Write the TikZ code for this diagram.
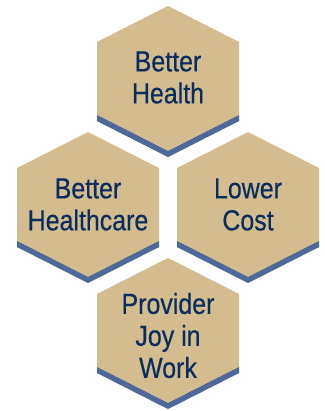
\documentclass[tikz,border=0pt]{standalone}
\usepackage{fontspec}
\setmainfont[FakeStretch=0.86,FakeBold=0.4]{Liberation Sans}
\definecolor{hextan}{HTML}{D3BC8D}
\definecolor{hexblue}{HTML}{4E6899}
\definecolor{hexnavy}{HTML}{0A2C5E}
\newcommand\mkhex[4]{%
  \fill[hextan] (#1-71,#2-39.5) -- (#1,#2-75.5) -- (#1+71,#2-39.5) -- (#1+71,#2+39.5) -- (#1,#2+75.5) -- (#1-71,#2+39.5) -- cycle;
  \fill[hexblue] (#1-71,#2+33.5) -- (#1,#2+69.5) -- (#1+71,#2+33.5) -- (#1+71,#2+39.5) -- (#1,#2+75.5) -- (#1-71,#2+39.5) -- cycle;
  \node[hextext] (#3) at (#1,#2+#4) {\csname txt#3\endcsname};
}
\newcommand\txttop{Better\\Health}
\newcommand\txtleft{Better\\Healthcare}
\newcommand\txtright{Lower\\Cost}
\newcommand\txtbottom{Provider\\Joy in\\Work}
\begin{document}
\begin{tikzpicture}[x=1pt,y=-1pt,
  hextext/.style={text=hexnavy,align=center,inner sep=0pt,
    font=\fontsize{29}{32}\selectfont}]
\useasboundingbox (0,0) rectangle (324,411);
\mkhex{168}{81.5}{top}{-4}
\mkhex{88}{207.5}{left}{-3}
\mkhex{248}{207.5}{right}{-3}
\mkhex{168}{333.5}{bottom}{2}
\end{tikzpicture}
\end{document}
